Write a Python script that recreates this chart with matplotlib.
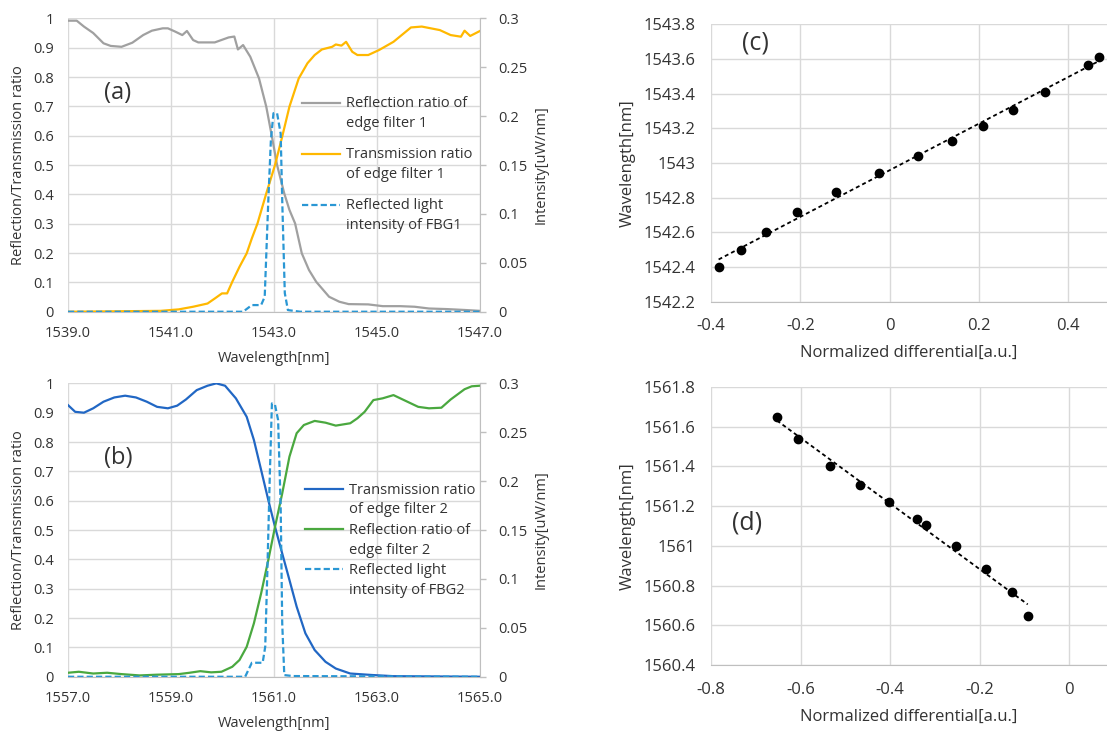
import numpy as np
import matplotlib
matplotlib.use('Agg')
import matplotlib.pyplot as plt
from matplotlib.ticker import MultipleLocator, FuncFormatter
from matplotlib.legend_handler import HandlerLine2D
from matplotlib.lines import Line2D

plt.rcParams['font.family'] = ['Open Sans', 'DejaVu Sans']
plt.rcParams['font.size'] = 10.5

# ---- (a) edge filter 1 ----
wl_refl1 = [1539.0, 1539.17, 1539.31, 1539.49, 1539.69, 1539.83, 1540.04, 1540.25, 1540.46,
            1540.63, 1540.84, 1540.94, 1541.08, 1541.22, 1541.31, 1541.43, 1541.53, 1541.85,
            1542.12, 1542.23, 1542.30, 1542.40, 1542.54, 1542.71, 1542.85, 1542.96, 1543.06,
            1543.20, 1543.30, 1543.41, 1543.54, 1543.68, 1543.82, 1544.07, 1544.27, 1544.45,
            1544.83, 1545.11, 1545.45, 1545.73, 1546.01, 1546.36, 1546.70, 1547.0]
refl1 = [0.992, 0.992, 0.972, 0.95, 0.915, 0.906, 0.903, 0.917, 0.943, 0.958, 0.966, 0.966,
         0.955, 0.943, 0.957, 0.926, 0.918, 0.918, 0.935, 0.938, 0.894, 0.909, 0.869, 0.795,
         0.699, 0.597, 0.5, 0.403, 0.347, 0.301, 0.199, 0.142, 0.102, 0.051, 0.034, 0.026,
         0.025, 0.019, 0.019, 0.017, 0.011, 0.009, 0.006, 0.003]

wl_trans1 = [1539.0, 1540.25, 1540.80, 1541.15, 1541.43, 1541.71, 1541.85, 1541.99, 1542.09,
             1542.19, 1542.33, 1542.47, 1542.57, 1542.68, 1542.85, 1543.02, 1543.16, 1543.30,
             1543.48, 1543.65, 1543.79, 1543.93, 1544.13, 1544.20, 1544.31, 1544.40, 1544.52,
             1544.62, 1544.83, 1545.04, 1545.32, 1545.66, 1545.87, 1546.22, 1546.43, 1546.63,
             1546.70, 1546.81, 1547.0]
trans1 = [0.0, 0.002, 0.003, 0.008, 0.017, 0.028, 0.045, 0.0625, 0.0625, 0.102, 0.153, 0.199,
          0.25, 0.301, 0.403, 0.5, 0.597, 0.699, 0.795, 0.847, 0.875, 0.894, 0.903, 0.911,
          0.907, 0.920, 0.886, 0.875, 0.875, 0.892, 0.920, 0.969, 0.972, 0.960, 0.943, 0.9375,
          0.958, 0.94, 0.957]

wl_fbg1 = [1539.0, 1542.40, 1542.57, 1542.75, 1542.82, 1542.89, 1542.94, 1542.99, 1543.06,
           1543.13, 1543.16, 1543.21, 1543.27, 1543.51, 1547.0]
fbg1 = [0.0, 0.0, 0.0068, 0.0068, 0.0153, 0.114, 0.1756, 0.203, 0.203, 0.182, 0.114, 0.019,
        0.0017, 0.0, 0.0]

# ---- (b) edge filter 2 ----
wl_trans2 = [1557.0, 1557.14, 1557.31, 1557.49, 1557.69, 1557.90, 1558.11, 1558.32, 1558.53,
             1558.73, 1558.94, 1559.12, 1559.29, 1559.50, 1559.71, 1559.88, 1560.05, 1560.26,
             1560.47, 1560.61, 1560.75, 1560.89, 1561.02, 1561.16, 1561.30, 1561.44, 1561.61,
             1561.79, 1562.00, 1562.20, 1562.48, 1562.90, 1563.32, 1565.0]
trans2 = [0.926, 0.903, 0.90, 0.915, 0.9375, 0.952, 0.958, 0.952, 0.9375, 0.92, 0.915, 0.924,
          0.945, 0.977, 0.992, 1.0, 0.992, 0.949, 0.886, 0.807, 0.705, 0.602, 0.511, 0.42,
          0.33, 0.239, 0.148, 0.091, 0.051, 0.028, 0.011, 0.006, 0.002, 0.0]

wl_refl2 = [1557.0, 1557.21, 1557.49, 1557.76, 1558.04, 1558.39, 1558.73, 1559.15, 1559.36,
            1559.57, 1559.78, 1559.98, 1560.19, 1560.33, 1560.47, 1560.61, 1560.75, 1560.89,
            1561.02, 1561.16, 1561.30, 1561.44, 1561.58, 1561.79, 1562.00, 1562.20, 1562.48,
            1562.62, 1562.76, 1562.93, 1563.11, 1563.32, 1563.59, 1563.80, 1564.01, 1564.25,
            1564.43, 1564.70, 1564.84, 1565.0]
refl2 = [0.0136, 0.017, 0.011, 0.0136, 0.009, 0.0045, 0.007, 0.009, 0.0136, 0.019, 0.015,
         0.017, 0.034, 0.057, 0.102, 0.182, 0.284, 0.398, 0.511, 0.625, 0.75, 0.83, 0.858,
         0.872, 0.866, 0.856, 0.864, 0.881, 0.903, 0.943, 0.949, 0.96, 0.9375, 0.92, 0.915,
         0.917, 0.945, 0.98, 0.99, 0.992]

wl_fbg2 = [1557.0, 1560.44, 1560.57, 1560.78, 1560.83, 1560.87, 1560.92, 1560.96, 1561.02,
           1561.08, 1561.13, 1561.16, 1561.20, 1561.37, 1565.0]
fbg2 = [0.0, 0.0, 0.0143, 0.0143, 0.0307, 0.1057, 0.208, 0.2795, 0.278, 0.2625, 0.174,
        0.0545, 0.0017, 0.0007, 0.0]

# ---- (c) and (d) calibration ----
nd_c = [-0.383, -0.333, -0.276, -0.207, -0.120, -0.024, 0.063, 0.139, 0.209, 0.277, 0.348,
        0.445, 0.469]
wl_c = [1542.40, 1542.50, 1542.60, 1542.717, 1542.831, 1542.944, 1543.042, 1543.127,
        1543.215, 1543.306, 1543.408, 1543.565, 1543.613]

nd_d = [-0.653, -0.606, -0.535, -0.467, -0.402, -0.340, -0.319, -0.254, -0.186, -0.128, -0.093]
wl_d = [1561.649, 1561.537, 1561.404, 1561.305, 1561.218, 1561.134, 1561.103, 1560.999,
        1560.885, 1560.766, 1560.647]

GRID = '#d9d9d9'
AXC = '#bfbfbf'
TXT = '#333333'


def gfmt(v, p):
    return '{:g}'.format(round(v, 6) + 0)


class FirstLineHandler(HandlerLine2D):
    # put the legend line at the first text line, like Excel
    def create_artists(self, legend, orig_handle, xdescent, ydescent, width, height,
                       fontsize, trans):
        arts = super().create_artists(legend, orig_handle, xdescent, ydescent, width,
                                      height, fontsize, trans)
        for a in arts:
            a.set_ydata(np.asarray(a.get_ydata()) + 0.76 * fontsize)
        return arts


def spectrum_panel(rect, xlo, series, fbg_x, fbg_y, leg_anchor, leg_spacing, tag):
    ax = fig.add_axes(rect)
    for x, y, c, lab in series:
        ax.plot(x, y, color=c, lw=1.6, label=lab, zorder=3)
    ax.set_xlim(xlo, xlo + 8)
    ax.set_ylim(0, 1)
    ax.set_xticks(np.arange(xlo, xlo + 8.1, 2))
    ax.yaxis.set_major_locator(MultipleLocator(0.1))
    ax.xaxis.set_major_formatter(FuncFormatter(lambda v, p: '%.1f' % v))
    ax.yaxis.set_major_formatter(FuncFormatter(gfmt))
    ax.grid(True, color=GRID, lw=1.0)
    ax.set_axisbelow(True)
    for s in ['top', 'right', 'left']:
        ax.spines[s].set_visible(False)
    ax.spines['bottom'].set_color(AXC)
    ax.tick_params(axis='both', length=0, colors=TXT, labelsize=10.5)
    ax.tick_params(axis='y', pad=10)
    ax.tick_params(axis='x', pad=10)
    ax.set_xlabel('Wavelength[nm]', color=TXT, va='center')
    ax.xaxis.set_label_coords(0.5, -0.159)
    ax.set_ylabel('Reflection/Transmission ratio', color=TXT, va='center')
    ax.yaxis.set_label_coords(-0.121, 0.5)

    ax2 = ax.twinx()
    ax2.plot(fbg_x, fbg_y, color='#2a97d4', lw=1.6, dashes=(2.8, 1.4),
             label=tag[1], zorder=3)
    ax2.set_ylim(0, 0.3)
    ax2.yaxis.set_major_locator(MultipleLocator(0.05))
    ax2.yaxis.set_major_formatter(FuncFormatter(gfmt))
    for s in ['top', 'left', 'bottom']:
        ax2.spines[s].set_visible(False)
    ax2.spines['right'].set_color(AXC)
    ax2.tick_params(axis='y', length=4, width=1, color=AXC, labelcolor=TXT,
                    labelsize=10.5, pad=9)
    ax2.set_ylabel('Intensity[uW/nm]', color=TXT, va='center')
    ax2.yaxis.set_label_coords(1.148, 0.5)

    h1, l1 = ax.get_legend_handles_labels()
    h2, l2 = ax2.get_legend_handles_labels()
    leg = ax2.legend(h1 + h2, l1 + l2, loc='upper left', bbox_to_anchor=leg_anchor,
                     frameon=False, borderpad=0, borderaxespad=0, handlelength=2.6,
                     handletextpad=0.4, labelspacing=leg_spacing, fontsize=10.5,
                     labelcolor=TXT, handler_map={Line2D: FirstLineHandler()})
    for t in leg.get_texts():
        t.set_linespacing(1.45)
    ax.text(0.121, 0.745, tag[0], transform=ax.transAxes, fontsize=17, color=TXT,
            ha='center', va='center')
    return ax


def calib_panel(rect, xlim, ylim, xs, ys, tag, tagpos):
    ax = fig.add_axes(rect)
    ax.plot(xs, ys, 'o', color='black', ms=6, zorder=4)
    k, b = np.polyfit(xs, ys, 1)
    xf = np.array([min(xs), max(xs)])
    ax.plot(xf, k * xf + b, color='black', lw=1.3, dashes=(2.2, 1.7), zorder=3)
    ax.set_xlim(*xlim)
    ax.set_ylim(*ylim)
    ax.xaxis.set_major_locator(MultipleLocator(0.2))
    ax.yaxis.set_major_locator(MultipleLocator(0.2))
    ax.xaxis.set_major_formatter(FuncFormatter(gfmt))
    ax.yaxis.set_major_formatter(FuncFormatter(gfmt))
    ax.grid(True, color=GRID, lw=1.0)
    ax.set_axisbelow(True)
    for s in ['top', 'right', 'left']:
        ax.spines[s].set_visible(False)
    ax.spines['bottom'].set_color(AXC)
    ax.tick_params(axis='both', length=0, colors=TXT, labelsize=12)
    ax.tick_params(axis='y', pad=11)
    ax.tick_params(axis='x', pad=12)
    ax.set_xlabel('Normalized differential[a.u.]', color=TXT, va='center', fontsize=12)
    ax.xaxis.set_label_coords(0.5, -0.185)
    ax.set_ylabel('Wavelength[nm]', color=TXT, va='center', fontsize=12)
    ax.yaxis.set_label_coords(-0.21, 0.5)
    ax.text(tagpos[0], tagpos[1], tag, fontsize=18, color=TXT, ha='center', va='center')
    return ax


fig = plt.figure(figsize=(11.07, 7.34), dpi=100)

spectrum_panel([0.0614, 0.5753, 0.3722, 0.3997], 1539.0,
               [(wl_refl1, refl1, '#a0a0a0', 'Reflection ratio of\nedge filter 1'),
                (wl_trans1, trans1, '#ffb800', 'Transmission ratio\nof edge filter 1')],
               wl_fbg1, fbg1, (0.568, 0.735), 1.1,
               ('(a)', 'Reflected light\nintensity of FBG1'))

spectrum_panel([0.0614, 0.078, 0.3722, 0.3997], 1557.0,
               [(wl_trans2, trans2, '#2167c4', 'Transmission ratio\nof edge filter 2'),
                (wl_refl2, refl2, '#4aa83f', 'Reflection ratio of\nedge filter 2')],
               wl_fbg2, fbg2, (0.575, 0.662), 0.35,
               ('(b)', 'Reflected light\nintensity of FBG2'))

calib_panel([0.6423, 0.589, 0.3577, 0.378], (-0.4, 0.487), (1542.2, 1543.8),
            nd_c, wl_c, '(c)', (-0.3, 1543.69))
calib_panel([0.6423, 0.094, 0.3577, 0.379], (-0.8, 0.084), (1560.4, 1561.8),
            nd_d, wl_d, '(d)', (-0.72, 1561.115))

fig.savefig('out.png', dpi=100)
